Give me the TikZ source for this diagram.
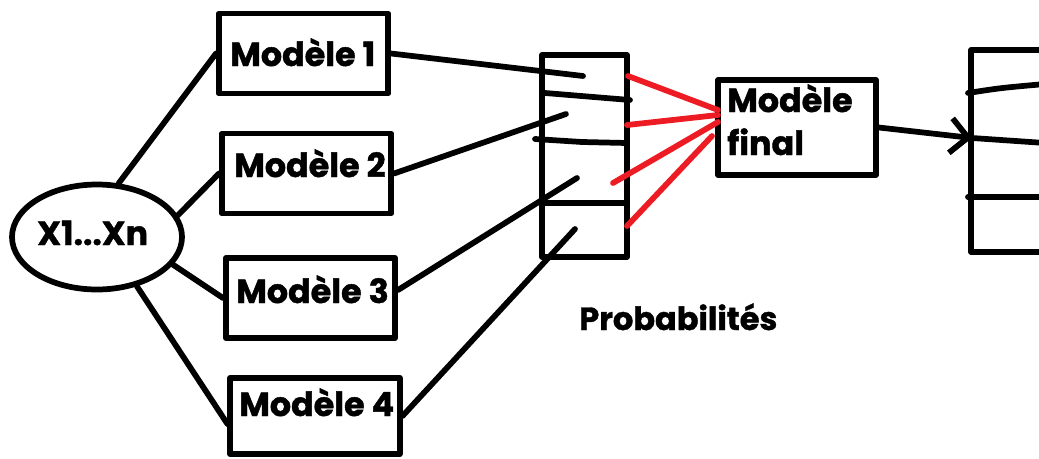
\documentclass[tikz,border=0pt]{standalone}
\usepackage{fontspec}
\setmainfont{Poppins}[BoldFeatures={FakeBold=1.2}]
\usetikzlibrary{shapes.geometric,arrows.meta,calc}
\definecolor{paintred}{HTML}{ED1C24}
\tikzset{
  pen/.style={line width=4.3pt, line cap=round, line join=round},
  modelbox/.style={draw, pen, line cap=butt, inner sep=0pt, minimum width=127pt, minimum height=60pt},
  lbl/.style={inner sep=0pt, anchor=base west, font=\fontsize{25}{29}\selectfont\bfseries},
  redline/.style={pen, draw=paintred}
}
\begin{document}
\begin{tikzpicture}[x=0.75pt,y=-0.75pt]
\useasboundingbox (0,0) rectangle (1039,458);
% input ellipse
\node[ellipse, draw, pen, minimum width=127.5pt, minimum height=78.75pt, inner sep=0pt] (ell) at (97,237) {};
\node[lbl] (xtxt) at (37,245) {X1...Xn};
% model boxes
\node[modelbox] (b1) at (303.5,53.5) {};
\node[modelbox] (b2) at (306.5,173.5) {};
\node[modelbox] (b3) at (310.5,298) {};
\node[modelbox, minimum height=57pt] (b4) at (315,416) {};
\node[lbl] (t1) at (230,66) {Modèle 1};
\node[lbl] (t2) at (234,177) {Modèle 2};
\node[lbl] (t3) at (236,303) {Modèle 3};
\node[lbl] (t4) at (239,416) {Modèle 4};
% probabilities box
\node[draw, pen, line cap=butt, inner sep=0pt, minimum width=63.75pt, minimum height=151.5pt] (pb) at (584.5,156) {};
\draw[pen] (545,93) -- (630,100);
\draw[pen] (535,139) -- (582,142) -- (627,143);
\draw[pen] (542,203) -- (627,203);
\node[lbl, font=\fontsize{24}{28}\selectfont\bfseries] (plbl) at (579,330) {Probabilités};
% final box
\node[draw, pen, line cap=butt, inner sep=0pt, minimum width=118.5pt, minimum height=71.25pt] (fin) at (797,127.5) {};
\node[lbl] (ft1) at (727,112) {Modèle};
\node[lbl] (ft2) at (727,155) {final};
% right box (partially visible)
\node[draw, pen, line cap=butt, inner sep=0pt, minimum width=60pt, minimum height=151.5pt] (rb) at (1011,151) {};
\draw[pen] (968,93) .. controls (1000,88) .. (1045,84);
\draw[pen] (972,138) -- (1045,143);
\draw[pen] (968,197) -- (1045,197);
% coordinates
\coordinate (p1) at (583,76);
\coordinate (p2) at (566,114);
\coordinate (p3) at (577,178);
\coordinate (p4) at (575,229);
\coordinate (r1) at (628,76);
\coordinate (r2) at (627,125);
\coordinate (r3) at (613,183);
\coordinate (r4) at (627,226);
\coordinate (f1) at (718,110);
\coordinate (f2) at (718,115);
\coordinate (f3) at (718,122);
\coordinate (f4) at (712,136);
\coordinate (tip) at (972,138);
% ellipse to models
\draw[pen] (ell.68) -- (b1.west);
\draw[pen] (ell.15) -- (b2.west);
\draw[pen] (ell.-20) -- (b3.west);
\draw[pen] (ell.-51) -- ($(b4.west)+(0,8)$);
% models to probabilities
\draw[pen] (b1.east) -- (p1);
\draw[pen] (b2.east) -- (p2);
\draw[pen] ($(b3.east)+(0,-8)$) -- (p3);
\draw[pen] (b4.east) -- (p4);
% red lines
\draw[redline] (r1) -- (f1);
\draw[redline] (r2) -- (f2);
\draw[redline] (r3) -- (f3);
\draw[redline] (r4) -- (f4);
% final arrow
\draw[pen, -{Straight Barb[length=13pt, width=26pt, line width=4.3pt]}] (fin.east) -- (tip);
\end{tikzpicture}
\end{document}
